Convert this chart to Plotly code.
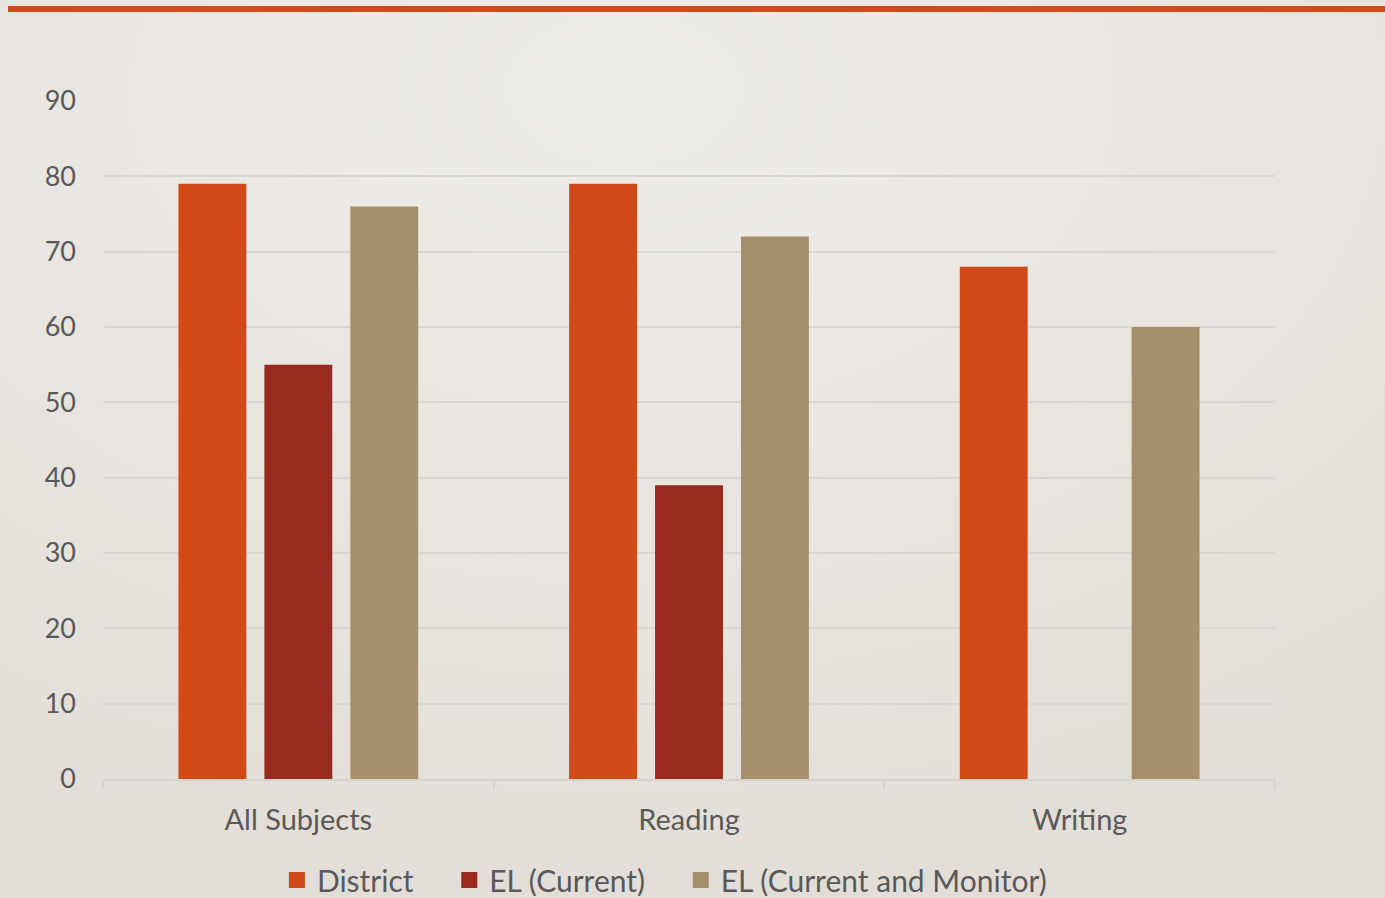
import base64
import plotly.graph_objects as go

categories = ["All Subjects", "Reading", "Writing"]
district = [79, 79, 68]
el_current = [55, 39, None]
el_current_monitor = [76, 72, 60]
series_names = ["District", "EL (Current)", "EL (Current and Monitor)"]
colors = ["#D24A18", "#9A2A1F", "#A68F6B"]
y_ticks = [0, 10, 20, 30, 40, 50, 60, 70, 80, 90]

fig = go.Figure()
for name, vals, col in zip(series_names, [district, el_current, el_current_monitor], colors):
    fig.add_trace(go.Bar(x=categories, y=vals, name=name, showlegend=False,
                         marker=dict(color=col, line=dict(width=0))))
# legend entries with larger square swatches
pad = "\u00a0" * 4
for i, (name, col) in enumerate(zip(series_names, colors)):
    label = name + (pad if i < len(series_names) - 1 else "")
    fig.add_trace(go.Scatter(x=[None], y=[None], mode="markers", name=label,
                             marker=dict(symbol="square", size=16, color=col)))

W, H = 1385, 898
ml, mr, mt, mb = 103, 110, 101, 119
pw, ph = W - ml - mr, H - mt - mb

# soft background gradient
svg = (
    '<svg xmlns="http://www.w3.org/2000/svg" width="1385" height="898" viewBox="0 0 1385 898" preserveAspectRatio="none">'
    '<defs><radialGradient id="g" cx="0.45" cy="0.1" r="0.9">'
    '<stop offset="0" stop-color="#EFEDE9"/><stop offset="1" stop-color="#E2DED7"/>'
    '</radialGradient></defs><rect width="1385" height="898" fill="url(#g)"/></svg>'
)
src = "data:image/svg+xml;base64," + base64.b64encode(svg.encode()).decode()
fig.add_layout_image(dict(source=src, xref="paper", yref="paper",
                          x=-ml / pw, y=(H - mb) / ph, sizex=W / pw, sizey=H / ph,
                          xanchor="left", yanchor="top", sizing="stretch", layer="below"))

fig.add_shape(type="rect", xref="paper", yref="paper",
              x0=(8 - ml) / pw, x1=(W - ml) / pw,
              y0=(H - mb - 12) / ph, y1=(H - mb - 6) / ph,
              fillcolor="#D24A18", line=dict(width=0), layer="above")

fig.update_layout(
    width=W, height=H,
    margin=dict(l=ml, r=mr, t=mt, b=mb, autoexpand=False),
    paper_bgcolor="#E8E5DF", plot_bgcolor="rgba(0,0,0,0)",
    font=dict(family="Lato, Open Sans, sans-serif", size=27, color="#595959"),
    barmode="group", bargap=0.34, bargroupgap=0.21,
    showlegend=True,
    legend=dict(orientation="h", x=0.479, xanchor="center", y=(779 - 880) / 678, yanchor="middle",
                font=dict(size=30, color="#595959"), bgcolor="rgba(0,0,0,0)",
                itemwidth=30, tracegroupgap=0),
    xaxis=dict(showgrid=False, showline=True, linecolor="#D6D3CF", linewidth=2,
               ticks="outside", tickson="boundaries", ticklen=8, tickcolor="#D6D3CF",
               tickwidth=2, ticklabelstandoff=14, tickfont=dict(size=29)),
    yaxis=dict(range=[0, 90], tickvals=y_ticks, showgrid=True, gridcolor="#D9D7D4", gridwidth=2,
               zeroline=False, showline=False, ticks="", ticklabelstandoff=26,
               tickfont=dict(size=27)),
)

fig.write_html("out.html", config={"displayModeBar": False},
               post_script="document.body.style.margin='0';document.body.style.overflow='hidden';")
